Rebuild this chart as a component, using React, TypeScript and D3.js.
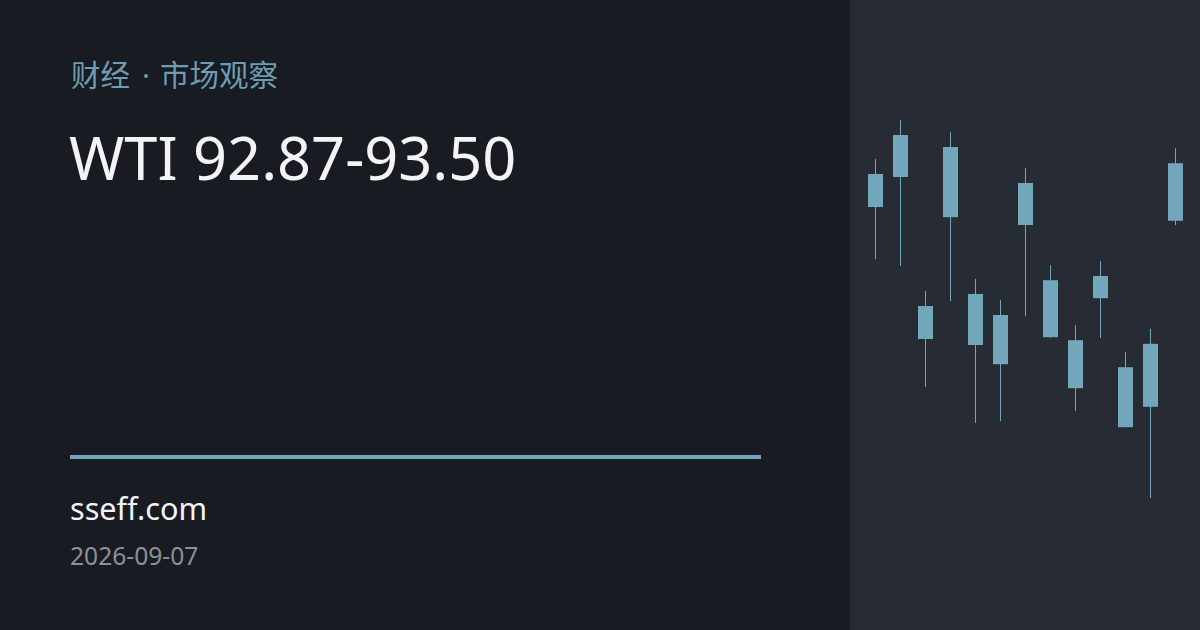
import * as d3 from "d3";

const WIDTH = 1200;
const HEIGHT = 630;
const PANEL_X = 850;

// Session candles (WTI).
const SESSIONS = ["1", "2", "3", "4", "5", "6", "7", "8", "9", "10", "11", "12", "13"];
const OPEN = [93.41, 93.405, 93.19, 93.455, 93.21, 93.175, 93.325, 93.233, 93.133, 93.24, 93.088, 93.022, 93.332];
const CLOSE = [93.355, 93.475, 93.135, 93.338, 93.125, 93.093, 93.395, 93.138, 93.053, 93.203, 92.988, 93.127, 93.428];
const HIGH = [93.435, 93.5, 93.215, 93.48, 93.235, 93.2, 93.42, 93.258, 93.158, 93.265, 93.113, 93.152, 93.453];
const LOW = [93.268, 93.257, 93.055, 93.198, 92.995, 92.998, 93.173, 93.137, 93.015, 93.137, 92.988, 92.87, 93.325];

const KICKER_LEFT = "财经";
const KICKER_SEP = "·";
const KICKER_RIGHT = "市场观察";
const TITLE = "WTI 92.87-93.50";
const SITE = "sseff.com";
const DATE = "2026-09-07";

const BG = "#181b22";
const PANEL_BG = "#272b33";
const ACCENT = "#72a6bb";
const LATIN = "'Noto Sans', sans-serif";

export default function App() {
  const x = d3
    .scaleBand<string>()
    .domain(SESSIONS)
    .range([PANEL_X + 13, WIDTH - 12])
    .paddingInner(0.4)
    .paddingOuter(0.2);
  const y = d3.scaleLinear().domain([92.87, 93.5]).range([498, 120]);
  const bw = x.bandwidth();

  return (
    <>
      <style>{`body{margin:0;background:${BG}}`}</style>
      <svg width={WIDTH} height={HEIGHT} viewBox={`0 0 ${WIDTH} ${HEIGHT}`} style={{ display: "block" }}>
        <rect x={0} y={0} width={WIDTH} height={HEIGHT} fill={BG} />
        <rect x={PANEL_X} y={0} width={WIDTH - PANEL_X} height={HEIGHT} fill={PANEL_BG} />

        <text x={71} y={86} fill="#6d9db3" fontFamily="'Noto Sans CJK SC', 'Noto Sans'" fontSize={29.5}>
          {KICKER_LEFT}
          <tspan fontFamily={LATIN} dx={12}>
            {KICKER_SEP}
          </tspan>
          <tspan dx={10}>{KICKER_RIGHT}</tspan>
        </text>
        <text x={69} y={180} fill="#f2f4f7" fontFamily={LATIN} fontSize={59.5}>
          {TITLE}
        </text>

        <rect x={70} y={455} width={691} height={4} fill={ACCENT} />

        <text x={70} y={520} fill="#f2f4f7" fontFamily={LATIN} fontSize={30.6}>
          {SITE}
        </text>
        <text x={70} y={565} fill="#8a8f98" fontFamily={LATIN} fontSize={24.6}>
          {DATE}
        </text>

        <g fill={ACCENT}>
          {SESSIONS.map((s, i) => {
            const x0 = x(s) ?? 0;
            const cx = x0 + bw / 2;
            const top = y(Math.max(OPEN[i], CLOSE[i]));
            const bottom = y(Math.min(OPEN[i], CLOSE[i]));
            return (
              <g key={s}>
                <rect x={cx - 0.5} y={y(HIGH[i])} width={1} height={y(LOW[i]) - y(HIGH[i])} />
                <rect x={x0} y={top} width={bw} height={bottom - top} />
              </g>
            );
          })}
        </g>
      </svg>
    </>
  );
}
